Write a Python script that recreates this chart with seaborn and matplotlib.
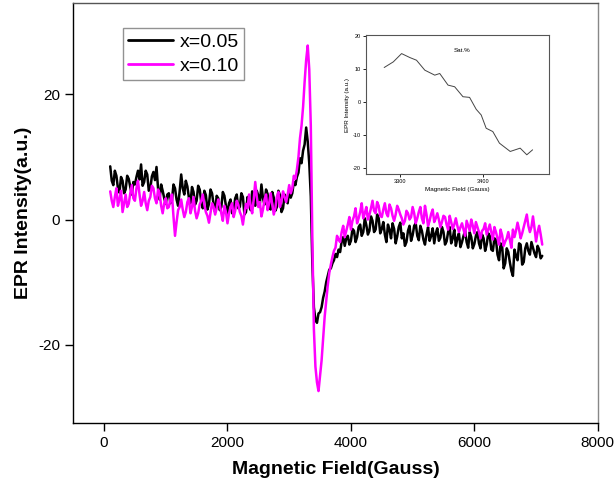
import matplotlib
matplotlib.use("Agg")
import matplotlib.pyplot as plt
import seaborn as sns
import pandas as pd
import numpy as np

# campo magnetico (Gauss), passo de 25 G
campo = np.arange(100, 7125, 25)

# x = 0.05 (preto)
sinal_005 = [
    # 100 - 1000
    8.5, 6.2, 5.5, 7.8, 7.0, 5.0, 4.3, 6.8, 6.2, 4.2, 4.8, 7.0, 6.5, 5.2, 4.0, 6.0, 5.6, 6.8, 7.8,
    6.4, 8.8, 5.4, 6.0, 7.8, 7.2, 4.6, 5.0, 6.9, 7.6, 6.3, 8.4, 5.0, 3.2, 5.6, 4.6, 3.4, 2.5,
    # 1025 - 2000
    4.0, 4.2, 2.6, 3.0, 5.6, 5.0, 3.2, 2.2, 4.5, 7.2, 5.0, 4.0, 6.2, 5.3, 3.5, 2.6, 5.2, 4.4, 2.4, 3.0,
    5.4, 4.8, 2.8, 1.8, 4.6, 3.9, 1.6, 2.5, 4.8, 4.2, 2.4, 1.2, 3.8, 3.4, 1.5, 2.0, 4.4, 3.8, 2.2, 0.9,
    # 2025 - 3000
    2.6, 3.2, 1.0, 1.5, 3.4, 4.0, 1.8, 2.0, 4.2, 3.6, 0.8, 1.2, 3.6, 2.8, 1.5, 4.5, 3.0, 2.2, 4.6, 3.8,
    2.6, 5.6, 3.4, 2.4, 4.8, 4.1, 2.0, 1.6, 4.4, 3.5, 1.4, 2.0, 4.6, 3.9, 1.2, 1.8, 4.0, 3.4, 2.6, 4.6,
    # 3025 - 3700
    3.5, 4.2, 6.0, 5.5, 6.8, 7.5, 9.8, 9.0, 11.0, 12.0, 14.7, 12.5, 9.0, 3.7,
    -7.0, -14.0, -16.0, -16.5, -15.0, -14.8, -14.0, -12.5, -11.5, -10.0, -9.0, -8.0, -7.8, -7.0,
    # 3725 - 4500
    -6.5, -5.5, -6.0, -4.8, -5.2, -3.5, -2.8, -4.2, -3.0, -2.6, -4.0, -3.4, -1.5, -1.8, -3.6, -2.8,
    -1.2, -0.8, -2.6, -2.0, 0.2, -0.9, -2.4, -1.8, 0.5, -0.2, -2.0, -1.6, 0.8, 0.2, -2.2, -1.5,
    # 4525 - 5500
    -0.4, -2.4, -3.6, -0.8, -1.6, -3.0, -0.6, -1.5, -3.8, -2.7, -1.2, -0.5, -3.0, -2.2, -4.2, -3.6,
    -1.8, -1.0, -3.4, -2.5, -1.0, -0.6, -2.6, -3.3, -1.0, -1.8, -3.2, -4.0, -2.4, -1.2, -3.4, -2.6,
    -1.4, -3.8, -2.2, -1.4, -3.4, -2.9, -1.2, -2.0,
    # 5525 - 6500
    -4.0, -3.5, -2.0, -1.2, -3.8, -3.0, -1.6, -4.2, -3.0, -2.2, -4.4, -3.6, -2.6, -1.8, -3.6, -4.5,
    -2.0, -2.8, -4.6, -3.9, -2.6, -2.0, -3.8, -4.6, -2.4, -3.0, -5.0, -4.0, -2.2, -2.6, -4.8, -5.0,
    -3.0, -3.2, -5.6, -6.5, -3.8, -4.2, -7.8, -7.0,
    # 6525 - 7100
    -4.6, -5.2, -6.8, -8.2, -9.0, -4.8, -5.8, -6.5, -3.8, -4.0, -7.2, -6.8, -4.6, -3.8, -5.0, -5.6,
    -3.6, -4.5, -5.4, -6.0, -4.2, -4.8, -6.2, -5.8,
]

# x = 0.10 (magenta)
sinal_010 = [
    # 100 - 1000
    4.5, 3.0, 2.0, 3.6, 5.0, 2.2, 3.2, 4.6, 1.2, 2.6, 4.0, 2.0, 2.5, 4.2, 5.5, 3.4, 3.0, 5.0, 6.2,
    4.0, 2.2, 3.0, 4.4, 2.6, 1.5, 3.0, 3.6, 5.4, 5.0, 3.4, 2.6, 4.8, 4.2, 2.2, 1.0, 2.6, 3.4,
    # 1025 - 2000
    1.8, 2.0, 3.2, 4.0, 0.5, -2.6, -0.4, 1.5, 2.0, 3.2, 1.6, 0.4, 1.2, 2.8, 3.4, 1.0, 2.0, 3.6, 1.4, 0.2,
    1.0, 2.4, 3.0, 4.0, 2.4, 1.2, 0.6, -0.5, 1.0, 2.6, 2.0, 0.8, 1.8, 3.2, 2.4, 1.0, -0.2, 2.2, 1.2, -0.6,
    # 2025 - 3000
    1.0, 2.0, 2.6, 0.4, 1.4, 3.0, 2.4, 1.2, 0.6, -0.8, 1.0, 2.5, 1.8, 4.0, 2.2, 1.0, 3.2, 6.0, 3.6, 2.0,
    2.8, 0.5, 1.6, 3.2, 4.0, 1.5, 2.6, 4.2, 2.4, 0.8, 1.8, 3.6, 4.4, 2.0, 3.0, 4.5, 3.6, 2.8, 4.0, 5.5,
    # 3025 - 3700
    4.2, 5.0, 7.0, 6.5, 8.0, 10.0, 13.0, 15.0, 18.0, 22.0, 25.5, 27.8, 24.0, 15.0,
    -3.0, -17.5, -23.5, -26.0, -27.4, -25.0, -22.5, -19.0, -15.5, -13.0, -10.5, -8.5, -7.2, -6.0,
    # 3725 - 4500
    -5.0, -4.5, -2.6, -3.2, -3.6, -2.0, -1.0, -2.8, -1.8, -0.8, 0.4, -1.6, -0.2, 0.5, 1.8, -0.6,
    0.2, 1.2, 2.6, 0.2, 1.0, 2.0, 0.0, 0.8, 1.8, 3.0, 1.4, 1.0, 2.8, 2.2, 0.6, 0.4,
    # 4525 - 5500
    1.6, 2.6, 1.0, 0.5, 2.4, 1.8, 0.6, -0.2, 0.8, 2.2, 1.6, 0.8, 0.2, -0.8, -0.2, 1.4,
    1.0, 0.0, 0.4, 2.0, 1.0, -0.6, 0.2, 1.2, 2.0, 0.2, -0.6, 2.2, 0.8, -1.0, -0.2, 0.9,
    1.6, -0.4, 0.2, 1.0, 0.0, -1.2, -0.4, 0.6,
    # 5525 - 6500
    0.4, -0.8, -1.6, 0.6, -0.4, -1.5, -0.8, 0.2, -1.0, -2.0, -1.2, -0.6, -1.6, -2.6, -0.2, -1.0,
    -1.8, 0.0, -1.0, -2.2, -0.4, -1.2, -2.0, -3.0, -1.8, -1.5, -0.6, -2.4, -1.6, -0.8, -2.0, -3.2,
    -1.2, -2.0, -3.0, -4.0, -1.6, -2.5, -4.2, -3.5,
    # 6525 - 7100
    -3.0, -2.0, -3.2, -4.5, -1.6, -2.8, -1.8, -0.5, -1.6, -3.0, -2.2, -1.2, -0.2, 0.8, -1.0, -2.0,
    -1.2, 0.5, -1.4, -3.5, -2.0, -1.0, -2.4, -4.0,
]

# curva do inset (Sat.%)
campo_inset = [3281, 3292, 3302, 3312, 3320, 3330, 3342, 3348, 3358, 3366, 3376,
               3384, 3392, 3398, 3404, 3412, 3420, 3433, 3445, 3453, 3460]
sinal_inset = [10.4, 12.1, 14.6, 13.4, 12.6, 9.6, 8.1, 8.6, 5.1, 4.6, 1.6,
               1.4, -2.2, -3.9, -7.9, -8.9, -12.4, -14.9, -13.9, -15.9, -14.4]

df = pd.DataFrame({
    "campo": np.concatenate([campo, campo]),
    "sinal": sinal_005 + sinal_010,
    "amostra": ["x=0.05"] * len(campo) + ["x=0.10"] * len(campo),
})

sns.set_style("ticks")
plt.rcParams["font.family"] = ["Liberation Sans", "DejaVu Sans"]
plt.rcParams["axes.unicode_minus"] = False
for k in ["text.color", "axes.labelcolor", "xtick.color", "ytick.color"]:
    plt.rcParams[k] = "black"

fig = plt.figure(figsize=(6.15, 4.93), dpi=100)
ax = fig.add_axes([0.119, 0.142, 0.853, 0.852])

sns.lineplot(data=df, x="campo", y="sinal", hue="amostra",
             palette={"x=0.05": "black", "x=0.10": "#ff00ff"},
             linewidth=1.8, ax=ax)

ax.set_xlim(-500, 8000)
ax.set_ylim(-32.5, 34.6)
ax.set_xticks([0, 2000, 4000, 6000, 8000])
ax.set_yticks([-20, 0, 20])
ax.tick_params(axis="both", labelsize=11, length=6, width=1, direction="out")
ax.set_xlabel("Magnetic Field(Gauss)", fontsize=14, fontweight="bold", labelpad=8)
ax.set_ylabel("EPR Intensity(a.u.)", fontsize=14, fontweight="bold", labelpad=4)
for s in ax.spines.values():
    s.set_linewidth(1)
    s.set_color("black")
ax.spines["right"].set_color("#888888")
ax.spines["top"].set_color("#555555")

leg = ax.legend(loc="upper left", bbox_to_anchor=(0.095, 0.94), borderaxespad=0,
                fontsize=14, frameon=True, fancybox=False, handlelength=2.3,
                borderpad=0.25, labelspacing=0.35, handletextpad=0.35)
leg.get_frame().set_edgecolor("#777777")
leg.get_frame().set_linewidth(1)
for l in leg.get_lines():
    l.set_linewidth(2)

# inset
axi = fig.add_axes([0.595, 0.647, 0.298, 0.282])
sns.lineplot(x=campo_inset, y=sinal_inset, color="#444444", linewidth=0.7, ax=axi)
axi.set_xlim(3259, 3480)
axi.set_ylim(-21.7, 20.2)
axi.set_xticks([3300, 3400])
axi.set_yticks([-20, -10, 0, 10, 20])
axi.tick_params(labelsize=4, length=2, width=0.6, pad=1.5)
axi.set_xlabel("Magnetic Field (Gauss)", fontsize=4.5, labelpad=2)
axi.set_ylabel("EPR Intensity (a.u.)", fontsize=4.5, labelpad=2)
axi.text(0.48, 0.88, "Sat.%", transform=axi.transAxes, fontsize=4.5)
for s in axi.spines.values():
    s.set_linewidth(0.8)
    s.set_color("#555555")

fig.savefig("out.png", dpi=100)
